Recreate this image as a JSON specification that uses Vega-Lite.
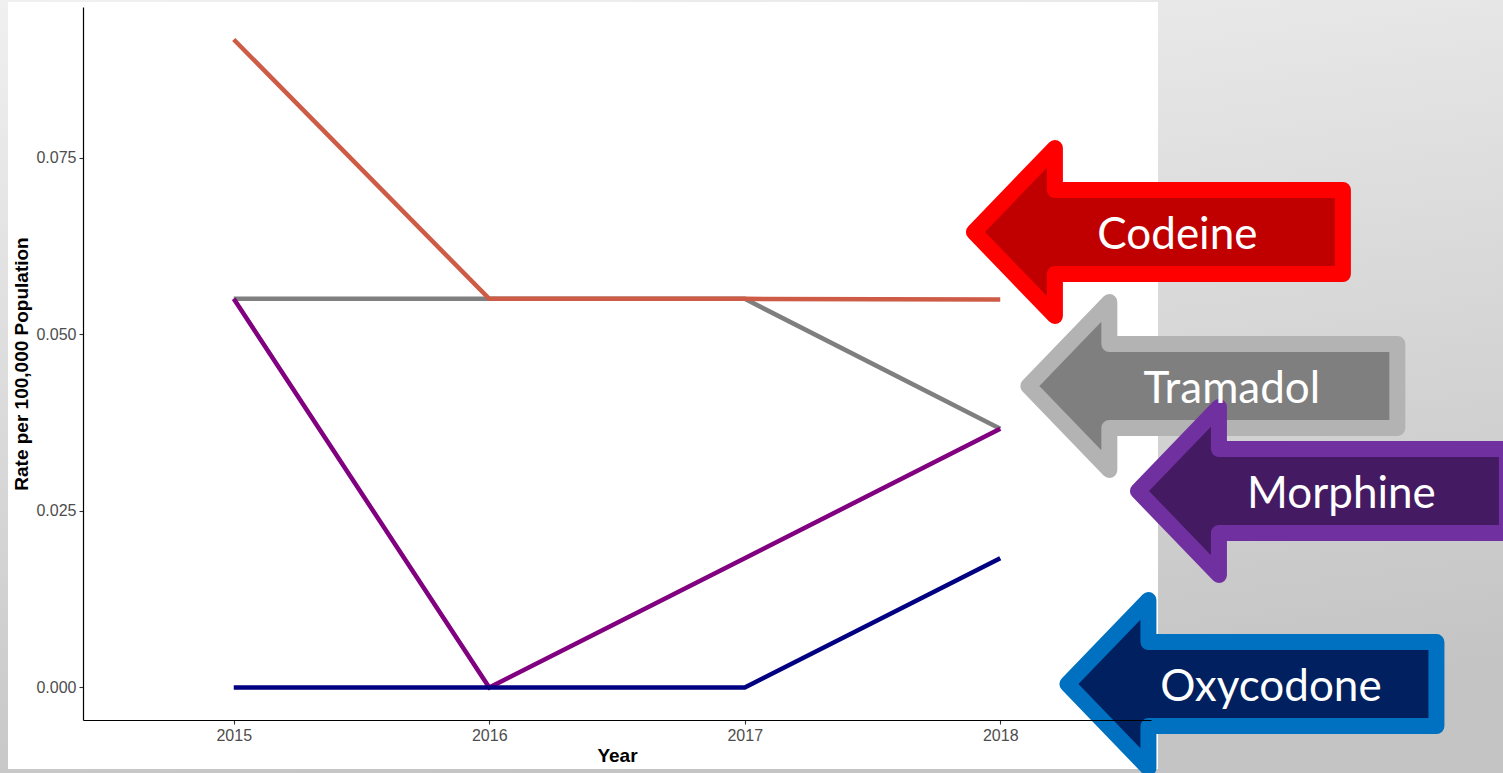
{
  "$schema": "https://vega.github.io/schema/vega-lite/v6.json",
  "width": 1068,
  "height": 713,
  "autosize": {"type": "none"},
  "padding": {"left": 83, "top": 7, "right": 352, "bottom": 53},
  "background": "#d3d3d3",
  "config": {
    "view": {"stroke": null},
    "axis": {
      "grid": false,
      "domainColor": "#000000",
      "domainWidth": 1.2,
      "tickColor": "#333333",
      "tickSize": 4,
      "tickWidth": 1.1,
      "labelColor": "#4d4d4d",
      "labelFont": "Liberation Sans",
      "labelFontSize": 16,
      "labelPadding": 3,
      "titleFont": "Liberation Sans",
      "titleFontSize": 19,
      "titleFontWeight": "bold",
      "titleColor": "#000000"
    }
  },
  "datasets": {
    "rates": [
      {"drug": "Codeine", "year": 2015, "rate": 0.0917},
      {"drug": "Codeine", "year": 2016, "rate": 0.0550},
      {"drug": "Codeine", "year": 2017, "rate": 0.0550},
      {"drug": "Codeine", "year": 2018, "rate": 0.0549},
      {"drug": "Tramadol", "year": 2015, "rate": 0.0550},
      {"drug": "Tramadol", "year": 2016, "rate": 0.0550},
      {"drug": "Tramadol", "year": 2017, "rate": 0.0550},
      {"drug": "Tramadol", "year": 2018, "rate": 0.0366},
      {"drug": "Morphine", "year": 2015, "rate": 0.0550},
      {"drug": "Morphine", "year": 2016, "rate": 0.0},
      {"drug": "Morphine", "year": 2017, "rate": 0.0183},
      {"drug": "Morphine", "year": 2018, "rate": 0.0366},
      {"drug": "Oxycodone", "year": 2015, "rate": 0.0},
      {"drug": "Oxycodone", "year": 2016, "rate": 0.0},
      {"drug": "Oxycodone", "year": 2017, "rate": 0.0},
      {"drug": "Oxycodone", "year": 2018, "rate": 0.0183}
    ],
    "labels": [
      {"drug": "Codeine", "year": 2018.619, "rate": 0.06446},
      {"drug": "Tramadol", "year": 2018.832, "rate": 0.04267},
      {"drug": "Morphine", "year": 2019.261, "rate": 0.02781},
      {"drug": "Oxycodone", "year": 2018.985, "rate": 0.00049}
    ]
  },
  "layer": [
    {
      "data": {"values": [{}]},
      "mark": {
        "type": "rect",
        "clip": false,
        "fill": {
          "gradient": "linear",
          "x1": 0, "y1": 0, "x2": 0.25, "y2": 1,
          "stops": [
            {"offset": 0, "color": "#f1f1f1"},
            {"offset": 1, "color": "#c4c4c4"}
          ]
        }
      },
      "encoding": {
        "x": {"datum": 2014.0, "type": "quantitative"},
        "x2": {"datum": 2020.5},
        "y": {"datum": 0.1, "type": "quantitative"},
        "y2": {"datum": -0.016}
      }
    },
    {
      "data": {"values": [{}]},
      "mark": {"type": "rect", "clip": false, "fill": "#ffffff"},
      "encoding": {
        "x": {"datum": 2014.1165, "type": "quantitative"},
        "x2": {"datum": 2018.6174},
        "y": {"datum": 0.09701, "type": "quantitative"},
        "y2": {"datum": -0.01154}
      }
    },
    {
      "data": {"name": "rates"},
      "transform": [{"filter": "datum.drug === 'Tramadol'"}],
      "mark": {"type": "line", "stroke": "#7f7f7f", "strokeWidth": 4.5, "strokeCap": "butt"},
      "encoding": {
        "x": {
          "field": "year", "type": "quantitative",
          "scale": {"domain": [2014.41, 2018.59], "nice": false, "zero": false},
          "axis": {"title": "Year", "values": [2015, 2016, 2017, 2018], "format": "d", "titlePadding": 3, "zindex": 1}
        },
        "y": {
          "field": "rate", "type": "quantitative",
          "scale": {"domain": [-0.0046, 0.0963], "nice": false, "zero": false},
          "axis": {"title": "Rate per 100,000 Population", "values": [0, 0.025, 0.05, 0.075], "format": ".3f", "titlePadding": 4, "zindex": 1}
        }
      }
    },
    {
      "data": {"name": "rates"},
      "transform": [{"filter": "datum.drug === 'Morphine'"}],
      "mark": {"type": "line", "stroke": "#800080", "strokeWidth": 4.5, "strokeCap": "butt"},
      "encoding": {
        "x": {"field": "year", "type": "quantitative"},
        "y": {"field": "rate", "type": "quantitative"}
      }
    },
    {
      "data": {"name": "rates"},
      "transform": [{"filter": "datum.drug === 'Oxycodone'"}],
      "mark": {"type": "line", "stroke": "#000080", "strokeWidth": 4.5, "strokeCap": "butt"},
      "encoding": {
        "x": {"field": "year", "type": "quantitative"},
        "y": {"field": "rate", "type": "quantitative"}
      }
    },
    {
      "data": {"name": "rates"},
      "transform": [{"filter": "datum.drug === 'Codeine'"}],
      "mark": {"type": "line", "stroke": "#cd5b45", "strokeWidth": 4.5, "strokeCap": "butt"},
      "encoding": {
        "x": {"field": "year", "type": "quantitative"},
        "y": {"field": "rate", "type": "quantitative"}
      }
    },
    {
      "data": {"name": "labels"},
      "mark": {
        "type": "point",
        "shape": "M-1.845,0 L-1.035,-0.84 L-1.035,-0.42 L1.845,-0.42 L1.845,0.42 L-1.035,0.42 L-1.035,0.84 Z",
        "filled": true,
        "opacity": 1,
        "strokeWidth": 16,
        "strokeJoin": "round",
        "clip": false,
        "size": 40000,
        "zindex": 2
      },
      "encoding": {
        "x": {"field": "year", "type": "quantitative"},
        "y": {"field": "rate", "type": "quantitative"},
        "fill": {
          "field": "drug", "type": "nominal", "legend": null,
          "scale": {"domain": ["Codeine", "Tramadol", "Morphine", "Oxycodone"], "range": ["#c00000", "#7f7f7f", "#441a62", "#002060"]}
        },
        "stroke": {
          "field": "drug", "type": "nominal", "legend": null,
          "scale": {"domain": ["Codeine", "Tramadol", "Morphine", "Oxycodone"], "range": ["#ff0000", "#b3b3b3", "#7030a0", "#0070c0"]}
        }
      }
    },
    {
      "data": {"name": "labels"},
      "mark": {
        "type": "text",
        "clip": false,
        "dx": 19,
        "dy": 17,
        "align": "center",
        "baseline": "alphabetic",
        "font": "Lato",
        "fontSize": 44,
        "color": "#ffffff",
        "zindex": 3
      },
      "encoding": {
        "x": {"field": "year", "type": "quantitative"},
        "y": {"field": "rate", "type": "quantitative"},
        "text": {"field": "drug", "type": "nominal"}
      }
    }
  ]
}
